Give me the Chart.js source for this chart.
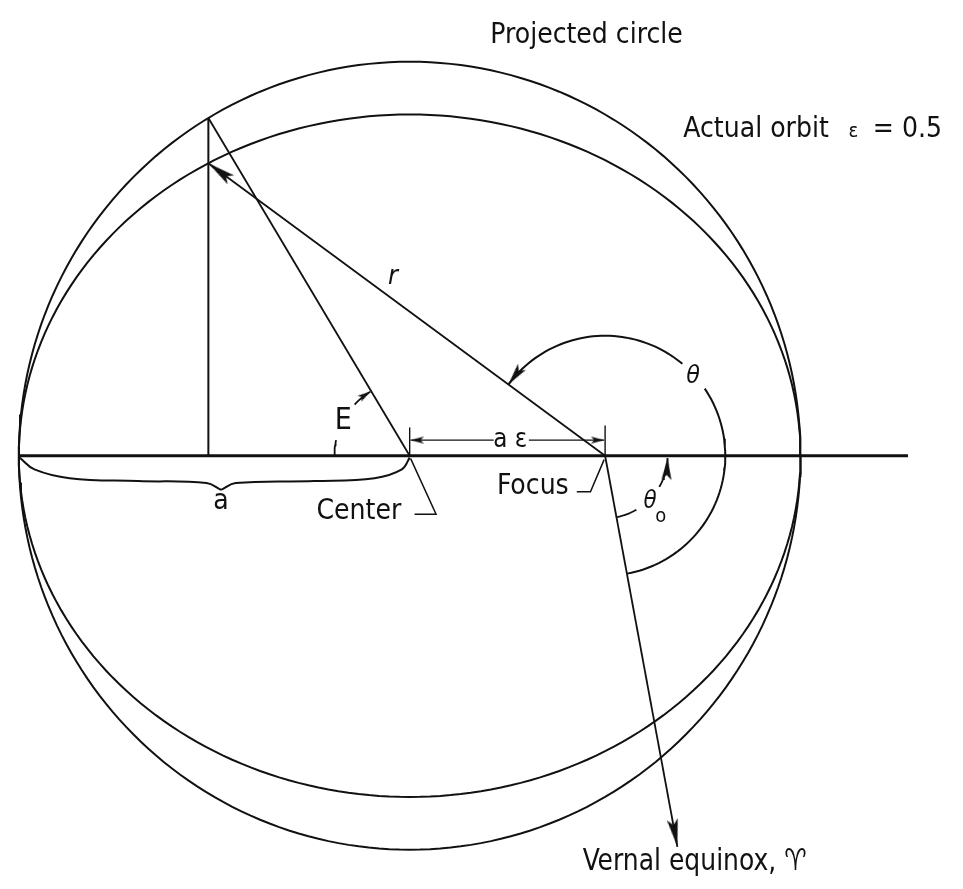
<!DOCTYPE html>
<html>
<head>
<meta charset="utf-8">
<script src="https://cdn.jsdelivr.net/npm/chart.js@4/dist/chart.umd.min.js"></script>
<style>
  html, body { margin: 0; padding: 0; background: #fff; }
  canvas { display: block; }
</style>
</head>
<body>
<canvas id="orbitChart" width="963" height="889"></canvas>
<script>
// values, in page units (y grows downward)
const orbitCentre = [408, 456];
const semiMajor = 400;
const circleSemiY = 404;
const eccentricity = 0.5;
const eccentricAnomalyDeg = 121;
const apsidesLine = [9, 918];
const vernalTip = [682, 857];
const thetaArc = [123, 143.5, 50, 34, -79.4];   // radius, start, gap start, gap end, end (deg)
const theta0Arc = [64, -80, -60, -30, -2];       // radius, stub from/to, arrow from/to (deg)
const eArc = [77, 180, 168, 137, 121.5];         // radius, stub from/to, arrow from/to (deg)
const aeTicks = [427, 425];                      // top of the two tick marks
const aeArrowY = 440;
const aeGap = [494, 530];
const braceLeft = [[9, 458], [24, 470], [60, 479], [130, 482], [200, 484], [215, 491]];
const braceRight = [[215, 491], [230, 484], [310, 482], [372, 479], [400, 470], [408, 458]];
const focusLeader = [[579, 493], [593, 493], [607, 460]];
const centerLeader = [[413, 516], [435, 516], [409, 459]];
const labelTexts = ['Projected circle', 'Actual orbit', '\u03b5', '= 0.5', 'r', 'E', 'a', 'a \u03b5',
  'Center', 'Focus', '\u03b8', '\u03b8', 'o', 'Vernal equinox, \u2648'];

const cx = orbitCentre[0], cy = orbitCentre[1];
const orbitSemiY = circleSemiY * Math.sqrt(1 - eccentricity * eccentricity);
const focus = [cx + semiMajor * eccentricity, cy];
const rad = d => d * Math.PI / 180;

function ellipsePts(x0, y0, rx, ry, fromDeg, toDeg, step) {
  const pts = [];
  const n = Math.max(2, Math.ceil(Math.abs(toDeg - fromDeg) / step));
  for (let i = 0; i <= n; i++) {
    const t = rad(fromDeg + (toDeg - fromDeg) * i / n);
    pts.push({x: x0 + rx * Math.cos(t), y: y0 - ry * Math.sin(t)});
  }
  return pts;
}
const arcPts = (c, r, a, b) => ellipsePts(c[0], c[1], r, r, a, b, 2);
const toPts = arr => arr.map(p => ({x: p[0], y: p[1]}));

const E = rad(eccentricAnomalyDeg);
const circlePt = {x: cx + semiMajor * Math.cos(E), y: cy - circleSemiY * Math.sin(E)};
const orbitPt = {x: cx + semiMajor * Math.cos(E), y: cy - orbitSemiY * Math.sin(E)};

// arrow sprites: tip sits in the sprite centre, body hangs below it
function makeArrow(len, width, notch) {
  const c = document.createElement('canvas');
  c.width = Math.ceil(width) + 2;
  c.height = len * 2;
  const g = c.getContext('2d');
  const m = c.width / 2;
  g.fillStyle = '#111';
  g.beginPath();
  g.moveTo(m, len);
  g.lineTo(m - width / 2, 2 * len);
  g.lineTo(m, 2 * len - notch);
  g.lineTo(m + width / 2, 2 * len);
  g.closePath();
  g.fill();
  return c;
}
const bigArrow = makeArrow(28, 11, 6);
const midArrow = makeArrow(22, 10, 5);
const smallArrow = makeArrow(13, 7, 3);

function heading(from, to) {
  return Math.atan2(to.x - from.x, -(to.y - from.y)) * 180 / Math.PI;
}
function arcHeading(pts) {
  return heading(pts[pts.length - 2], pts[pts.length - 1]);
}

const thetaTop = arcPts(focus, thetaArc[0], thetaArc[2], thetaArc[1]);
const thetaLow = arcPts(focus, thetaArc[0], thetaArc[3], thetaArc[4]);
const theta0Stub = arcPts(focus, theta0Arc[0], theta0Arc[1], theta0Arc[2]);
const theta0Arrow = arcPts(focus, theta0Arc[0], theta0Arc[3], theta0Arc[4]);
const eStub = arcPts(orbitCentre, eArc[0], eArc[1], eArc[2]);
const eArrow = arcPts(orbitCentre, eArc[0], eArc[3], eArc[4]);
const focusPt = {x: focus[0], y: focus[1]};
const vernalPt = {x: vernalTip[0], y: vernalTip[1]};

const aeLeft = [{x: aeGap[0], y: aeArrowY}, {x: cx + 1, y: aeArrowY}];
const aeRight = [{x: aeGap[1], y: aeArrowY}, {x: focus[0] - 1, y: aeArrowY}];

function stroke(data, width, extra) {
  return Object.assign({data, showLine: true, borderColor: '#111', borderWidth: width,
    pointRadius: 0, fill: false, tension: 0, clip: false}, extra || {});
}
function arrows(points, sprite) {
  return {data: points.map(p => p.pt), showLine: false, pointStyle: sprite,
    pointRadius: 10, pointRotation: points.map(p => p.rot), clip: false};
}

const datasets = [
  stroke(ellipsePts(cx, cy, semiMajor, circleSemiY, 0, 360, 1.5), 2),
  stroke(ellipsePts(cx, cy, semiMajor, orbitSemiY, 0, 360, 1.5), 2),
  stroke([{x: apsidesLine[0], y: cy}, {x: apsidesLine[1], y: cy}], 3),
  stroke([circlePt, {x: circlePt.x, y: cy}], 2),
  stroke([circlePt, {x: cx, y: cy}], 1.8),
  stroke([focusPt, orbitPt], 1.8),
  stroke([focusPt, vernalPt], 1.8),
  stroke([{x: cx, y: cy}, {x: cx, y: aeTicks[0]}], 1.4),
  stroke([{x: focus[0], y: cy}, {x: focus[0], y: aeTicks[1]}], 1.4),
  stroke(aeLeft, 1.4),
  stroke(aeRight, 1.4),
  stroke(thetaTop, 2),
  stroke(thetaLow, 2),
  stroke(theta0Stub, 1.8),
  stroke(theta0Arrow, 1.8),
  stroke(eStub, 1.8),
  stroke(eArrow, 1.8),
  stroke(toPts(braceLeft), 2, {tension: 0.4}),
  stroke(toPts(braceRight), 2, {tension: 0.4}),
  stroke(toPts(focusLeader), 1.5),
  stroke(toPts(centerLeader), 1.5),
  arrows([
    {pt: orbitPt, rot: heading(focusPt, orbitPt)},
    {pt: vernalPt, rot: heading(focusPt, vernalPt)}
  ], bigArrow),
  arrows([
    {pt: thetaTop[thetaTop.length - 1], rot: arcHeading(thetaTop)},
    {pt: theta0Arrow[theta0Arrow.length - 1], rot: arcHeading(theta0Arrow)}
  ], midArrow),
  arrows([
    {pt: aeLeft[1], rot: -90},
    {pt: aeRight[1], rot: 90},
    {pt: eArrow[eArrow.length - 1], rot: arcHeading(eArrow)}
  ], smallArrow)
];

// where each label sits, in page units: [x, y, size, align, italic, maxWidth]
const labelPlaces = [
  [589, 25, 28, 'center', false, 208],
  [688, 122, 28, 'left', false, 154],
  [862, 124, 20, 'center', false, 0],
  [882, 122, 28, 'left', false, 77],
  [391, 273, 27, 'center', true, 0],
  [340, 421, 30, 'center', false, 18],
  [215, 503, 28, 'center', false, 0],
  [511, 440, 27, 'center', false, 34],
  [356, 513, 28, 'center', false, 86],
  [534, 488, 28, 'center', false, 75],
  [698, 375, 25, 'center', true, 0],
  [654, 503, 24, 'center', true, 0],
  [665, 519, 20, 'center', false, 0],
  [585, 873, 30, 'left', false, 224]
];

const labelPlugin = {
  id: 'diagramLabels',
  afterDraw(chart) {
    const ctx = chart.ctx;
    const xs = chart.scales.x, ys = chart.scales.y;
    ctx.save();
    ctx.fillStyle = '#111';
    ctx.textBaseline = 'middle';
    labelTexts.forEach((txt, i) => {
      const [x, y, size, align, italic, maxW] = labelPlaces[i];
      ctx.font = (italic ? 'italic ' : '') + size + 'px "Liberation Sans Narrow", "DejaVu Sans Condensed", "Liberation Sans", sans-serif';
      ctx.textAlign = align;
      const px = xs.getPixelForValue(x), py = ys.getPixelForValue(y);
      if (maxW) ctx.fillText(txt, px, py, maxW);
      else ctx.fillText(txt, px, py);
    });
    ctx.restore();
  }
};

new Chart(document.getElementById('orbitChart'), {
  type: 'scatter',
  data: {datasets},
  options: {
    responsive: false,
    animation: false,
    layout: {padding: 0},
    plugins: {legend: {display: false}, tooltip: {enabled: false}},
    scales: {
      x: {type: 'linear', min: 0, max: 963, display: false},
      y: {type: 'linear', min: 0, max: 889, reverse: true, display: false}
    }
  },
  plugins: [labelPlugin]
});
</script>
</body>
</html>
